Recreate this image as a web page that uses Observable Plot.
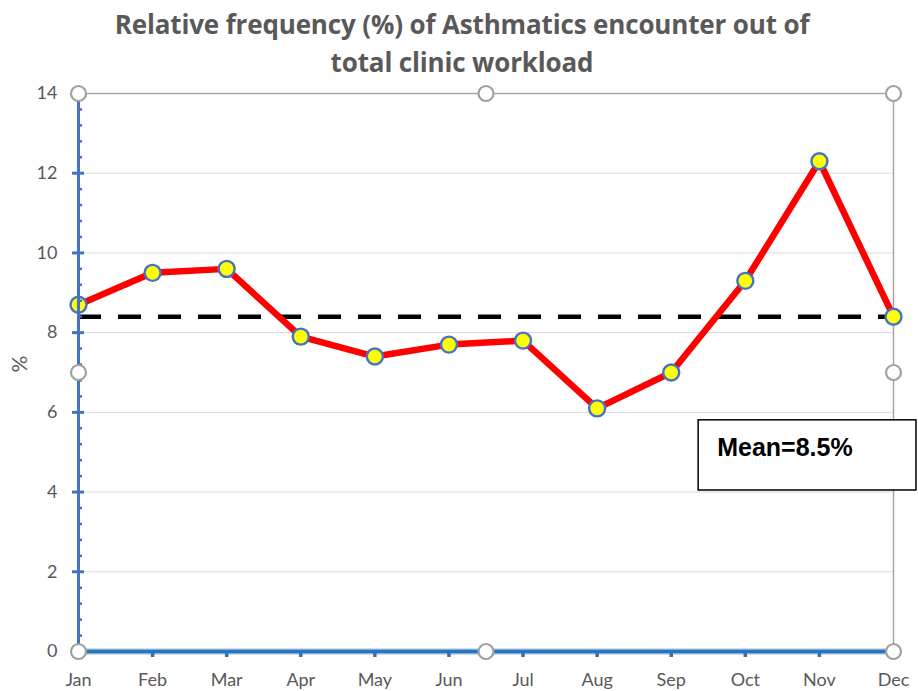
<!DOCTYPE html>
<html>
<head>
<meta charset="utf-8">
<script src="https://cdn.jsdelivr.net/npm/d3@7"></script>
<script src="https://cdn.jsdelivr.net/npm/@observablehq/plot@0.6"></script>
<style>
  html, body { margin: 0; padding: 0; background: #fff; }
  #title { width: 918px; height: 82px; box-sizing: border-box; padding-top: 5px; padding-left: 6px; text-align: center;
    font-family: "Open Sans", sans-serif; font-weight: 700; font-size: 26px; line-height: 38px; color: #595959; letter-spacing: -0.15px; }
</style>
</head>
<body>
<div id="title">Relative frequency (%) of Asthmatics encounter out of<br>total clinic workload</div>
<div id="chart"></div>
<script>
const months = ["Jan","Feb","Mar","Apr","May","Jun","Jul","Aug","Sep","Oct","Nov","Dec"];
const values = [8.7, 9.5, 9.6, 7.9, 7.4, 7.7, 7.8, 6.1, 7.0, 9.3, 12.3, 8.4];
const meanLine = 8.4;
const meanLabel = "Mean=8.5%";
const yTicks = [0, 2, 4, 6, 8, 10, 12, 14];
// annotation box (x in month index, y in %)
const meanBox = [{x1: 8.37, x2: 11.31, y1: 4.04, y2: 5.8, tx: 8.62, ty: 5.1}];
// selection handles of the chart area (month index, %)
const handles = [{x:0,y:14},{x:5.5,y:14},{x:11,y:14},{x:0,y:7},{x:11,y:7},{x:0,y:0},{x:5.5,y:0},{x:11,y:0}];

const data = months.map((m, i) => ({i, m, v: values[i]}));
const blue = "#4472C4";
const minor = d3.range(0, 14.001, 0.4).filter(v => Math.abs(v / 2 - Math.round(v / 2)) > 1e-6);

const chart = Plot.plot({
  width: 918,
  height: 609,
  marginTop: 11,
  marginBottom: 40,
  marginLeft: 78,
  marginRight: 25,
  style: {fontFamily: "Lato, sans-serif", fontSize: "18px", color: "#595959", background: "#fff"},
  x: {domain: [0, 11]},
  y: {domain: [0, 14]},
  marks: [
    Plot.gridY(yTicks, {stroke: "#d9d9d9", strokeOpacity: 1, strokeWidth: 1}),
    Plot.ruleY([14], {stroke: "#a6a6a6", strokeWidth: 1.5}),
    Plot.ruleX([11], {stroke: "#a6a6a6", strokeWidth: 1.5}),
    Plot.axisY(yTicks, {tickSize: 0, tickPadding: 21, fontSize: 18, fill: "#595959", label: null}),
    Plot.axisX(d3.range(0, 12), {tickSize: 0, tickPadding: 22, tickFormat: i => months[i], fontSize: 18, fill: "#595959", label: null}),
    Plot.text(["%"], {frameAnchor: "left", dx: -58, rotate: -90, fontSize: 21, fill: "#595959"}),
    Plot.ruleY([meanLine], {x1: 0, x2: 11.35, stroke: "#000", strokeWidth: 4.5, strokeDasharray: "23,17"}),
    Plot.line(data, {x: "i", y: "v", stroke: "#ff0000", strokeWidth: 6.5, strokeLinejoin: "round"}),
    Plot.dot(data, {x: "i", y: "v", r: 8, fill: "#ffff00", stroke: blue, strokeWidth: 2.4}),
    Plot.ruleX([0], {y1: 0, y2: 14, stroke: blue, strokeWidth: 3}),
    Plot.axisY(minor, {tickSize: -4, text: null, stroke: blue, strokeWidth: 2.5}),
    Plot.axisY(yTicks, {tickSize: 6, text: null, stroke: blue, strokeWidth: 3}),
    Plot.axisY(yTicks, {tickSize: -6, text: null, stroke: blue, strokeWidth: 3}),
    Plot.ruleY([0], {x1: 0, x2: 11, stroke: "#9dc3e6", strokeWidth: 6}),
    Plot.ruleY([0], {x1: 0, x2: 11, stroke: "#2E75B6", strokeWidth: 3.5}),
    Plot.axisX(d3.range(1, 11), {tickSize: 6, text: null, stroke: "#2E75B6", strokeWidth: 3.5}),
    Plot.dot(handles, {x: "x", y: "y", r: 7.5, fill: "#fff", stroke: "#a0a0a0", strokeWidth: 2.2}),
    Plot.rect(meanBox, {x1: "x1", x2: "x2", y1: "y1", y2: "y2", fill: "#fff", stroke: "#000", strokeWidth: 1.5}),
    Plot.text(meanBox, {x: "tx", y: "ty", text: () => meanLabel, textAnchor: "start", fontFamily: "Liberation Sans, Arial, sans-serif", fontWeight: "bold", fontSize: 25, fill: "#000"})
  ]
});
document.getElementById("chart").appendChild(chart);
</script>
</body>
</html>
